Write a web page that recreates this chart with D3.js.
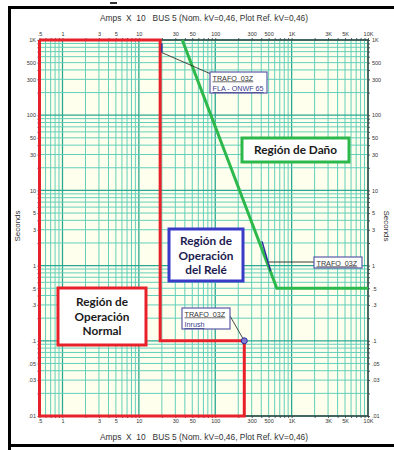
<!DOCTYPE html>
<html>
<head>
<meta charset="utf-8">
<script src="https://cdn.jsdelivr.net/npm/d3@7"></script>
<style>
  html, body { margin: 0; padding: 0; background: #ffffff; }
  svg { display: block; }
  svg text { white-space: pre; }
  .tick text { font-family: Arial, "Liberation Sans", sans-serif; font-size: 5.5px; fill: #333; }
  .tick line { stroke: #333; stroke-width: 0.8; }
  .domain { display: none; }
</style>
</head>
<body>
<svg id="chart" width="394" height="450"></svg>
<script>
// Tick values and labels (current in amps x10, time in seconds)
const xTickValues = [0.5, 1, 3, 5, 10, 30, 50, 100, 300, 500, 1000, 3000, 5000, 10000];
const xTickLabels = [".5", "1", "3", "5", "10", "30", "50", "100", "300", "500", "1K", "3K", "5K", "10K"];
const yTickValues = [1000, 500, 300, 100, 50, 30, 10, 5, 3, 1, 0.5, 0.3, 0.1, 0.05, 0.03, 0.01];
const yTickLabels = ["1K", "500", "300", "100", "50", "30", "10", "5", "3", "1", ".5", ".3", ".1", ".05", ".03", ".01"];

// Normal operation region (red) : [amps, seconds]
const normalRegion = [[0.5, 1000], [19, 1000], [19, 0.1], [240, 0.1], [240, 0.01], [0.5, 0.01], [0.5, 1000]];
// Transformer damage curve (green)
const damageCurve = [[37, 1000], [640, 0.5], [10000, 0.5]];
// TRAFO 03Z damage segment (blue)
const trafoSegment = [[410, 2.1], [530, 0.85]];
// TRAFO 03Z full-load amps marker
const flaMarker = [[20, 900], [20, 680]];
// TRAFO 03Z inrush point
const inrushPoint = [240, 0.1];

const axisTitle = "Amps  X  10   BUS 5 (Nom. kV=0,46, Plot Ref. kV=0,46)";

const svg = d3.select("#chart");
const pLeft = 39.5, pRight = 368, pTop = 40, pBottom = 416;

const x = d3.scaleLog().domain([0.5, 10000]).range([pLeft, pRight]);
const y = d3.scaleLog().domain([0.01, 1000]).range([pBottom, pTop]);

// outer frame
svg.append("rect").attr("x", 8).attr("y", 6).attr("width", 386).attr("height", 3).attr("fill", "#000");
svg.append("rect").attr("x", 8).attr("y", 6).attr("width", 3).attr("height", 444).attr("fill", "#000");
svg.append("rect").attr("x", 8).attr("y", 444).attr("width", 386).attr("height", 3).attr("fill", "#000");
svg.append("rect").attr("x", 110).attr("y", 2).attr("width", 7).attr("height", 2).attr("fill", "#333");

// plot background
svg.append("rect").attr("x", pLeft).attr("y", pTop)
  .attr("width", pRight - pLeft).attr("height", pBottom - pTop)
  .attr("fill", "#ffffee");

// log grid values (1..9 per decade)
function logGrid(lo, hi) {
  const out = [];
  for (let e = -3; e <= 5; e++) {
    for (let m = 1; m <= 9; m++) {
      const v = m * Math.pow(10, e);
      if (v >= lo * 0.999 && v <= hi * 1.001) out.push({ v: v, major: m === 1 });
    }
  }
  return out;
}
const xGrid = logGrid(0.5, 10000);
const yGrid = logGrid(0.01, 1000);

const grid = svg.append("g");
grid.selectAll("line.vx").data(xGrid).join("line")
  .attr("x1", d => x(d.v)).attr("x2", d => x(d.v))
  .attr("y1", pTop).attr("y2", pBottom)
  .attr("stroke", d => d.major ? "#2aa892" : "#62cfba")
  .attr("stroke-width", d => d.major ? 1.3 : 1);
grid.selectAll("line.hy").data(yGrid).join("line")
  .attr("y1", d => y(d.v)).attr("y2", d => y(d.v))
  .attr("x1", pLeft).attr("x2", pRight)
  .attr("stroke", d => d.major ? "#2aa892" : "#62cfba")
  .attr("stroke-width", d => d.major ? 1.3 : 1);

// axes
const xAllTicks = xGrid.map(d => d.v);
const yAllTicks = yGrid.map(d => d.v);
const xLab = v => { const i = xTickValues.findIndex(t => Math.abs(t - v) / t < 1e-6); return i >= 0 ? xTickLabels[i] : ""; };
const yLab = v => { const i = yTickValues.findIndex(t => Math.abs(t - v) / t < 1e-6); return i >= 0 ? yTickLabels[i] : ""; };

svg.append("g").attr("transform", `translate(0,${pTop})`)
  .call(d3.axisTop(x).tickValues(xAllTicks).tickFormat(xLab).tickSize(2).tickPadding(2));
svg.append("g").attr("transform", `translate(0,${pBottom})`)
  .call(d3.axisBottom(x).tickValues(xAllTicks).tickFormat(xLab).tickSize(2).tickPadding(1));
svg.append("g").attr("transform", `translate(${pLeft},0)`)
  .call(d3.axisLeft(y).tickValues(yAllTicks).tickFormat(yLab).tickSize(2).tickPadding(1.5));
svg.append("g").attr("transform", `translate(${pRight},0)`)
  .call(d3.axisRight(y).tickValues(yAllTicks).tickFormat(yLab).tickSize(2).tickPadding(2));

// plot frame
svg.append("rect").attr("x", pLeft).attr("y", pTop)
  .attr("width", pRight - pLeft).attr("height", pBottom - pTop)
  .attr("fill", "none").attr("stroke", "#3a4a48").attr("stroke-width", 1.5);

const line = d3.line().x(d => x(d[0])).y(d => y(d[1]));

// curves
svg.append("path").datum(normalRegion).attr("d", line)
  .attr("fill", "none").attr("stroke", "#e8202a").attr("stroke-width", 3);
svg.append("path").datum(damageCurve).attr("d", line)
  .attr("fill", "none").attr("stroke", "#2db84c").attr("stroke-width", 3);
svg.append("path").datum(trafoSegment).attr("d", line)
  .attr("fill", "none").attr("stroke", "#2c2c9c").attr("stroke-width", 1.5);
svg.append("path").datum(flaMarker).attr("d", line)
  .attr("fill", "none").attr("stroke", "#2c2c9c").attr("stroke-width", 1.5);

// axis titles
const titleFont = "Arial, 'Liberation Sans', sans-serif";
[21, 440].forEach(ty => {
  svg.append("text").attr("x", 204).attr("y", ty).attr("text-anchor", "middle")
    .attr("font-family", titleFont).attr("font-size", 8.4).attr("fill", "#333").text(axisTitle);
});
svg.append("text").attr("transform", "translate(20,226) rotate(-90)").attr("text-anchor", "middle")
  .attr("font-family", titleFont).attr("font-size", 8).attr("fill", "#333").text("Seconds");
svg.append("text").attr("transform", "translate(384,226) rotate(90)").attr("text-anchor", "middle")
  .attr("font-family", titleFont).attr("font-size", 8).attr("fill", "#333").text("Seconds");

// region boxes
const regionFont = "Lato, 'Open Sans', sans-serif";
function regionBox(bx, by, bw, bh, color, lines, baseY, textColor) {
  svg.append("rect").attr("x", bx).attr("y", by).attr("width", bw).attr("height", bh)
    .attr("fill", "#ffffff").attr("stroke", color).attr("stroke-width", 3);
  lines.forEach((t, i) => {
    svg.append("text").attr("x", bx + bw / 2).attr("y", baseY + i * 14.5)
      .attr("text-anchor", "middle").attr("font-family", regionFont)
      .attr("font-weight", "bold").attr("font-size", 11.8).attr("fill", textColor).text(t);
  });
}
regionBox(58, 288, 88, 57, "#e8202a", ["Región de", "Operación", "Normal"], 306, "#1a1a1a");
regionBox(169, 229, 74, 52, "#3a3ac8", ["Región de", "Operación", "del Relé"], 245, "#1c1c50");
regionBox(242, 138, 107, 24, "#2db84c", ["Región de Daño"], 154, "#1a1a1a");

// annotation labels
const noteFont = "Arial, 'Liberation Sans', sans-serif";
function note(bx, by, bw, bh, lines, baseY) {
  svg.append("rect").attr("x", bx).attr("y", by).attr("width", bw).attr("height", bh)
    .attr("fill", "#ffffff").attr("stroke", "#5a5aa8").attr("stroke-width", 1.2);
  lines.forEach((t, i) => {
    svg.append("text").attr("x", bx + 2.5).attr("y", baseY + i * 10.5)
      .attr("font-family", noteFont).attr("font-size", 7.2).attr("fill", i === 0 ? "#333" : "#3a3a8a")
      .attr("text-decoration", "underline").text(t);
  });
}

// leader lines
svg.append("line").attr("x1", x(flaMarker[1][0])).attr("y1", y(flaMarker[1][1]))
  .attr("x2", 211).attr("y2", 74).attr("stroke", "#333").attr("stroke-width", 0.9);
svg.append("line").attr("x1", 269).attr("y1", 262).attr("x2", 314).attr("y2", 262)
  .attr("stroke", "#222").attr("stroke-width", 0.9);
svg.append("line").attr("x1", 230).attr("y1", 316).attr("x2", x(inrushPoint[0]) - 1.5).attr("y2", y(inrushPoint[1]) - 2.5)
  .attr("stroke", "#333").attr("stroke-width", 0.9);

note(210, 72, 57, 21, ["TRAFO  03Z", "FLA - ONWF 65"], 80.5);
note(314, 257, 48, 11, ["TRAFO  03Z"], 265.5);
note(182, 308, 48, 21, ["TRAFO  03Z", "Inrush"], 316.5);

// inrush marker
svg.append("circle").attr("cx", x(inrushPoint[0])).attr("cy", y(inrushPoint[1])).attr("r", 3)
  .attr("fill", "#7f7fd6").attr("stroke", "#2c2c9c").attr("stroke-width", 1);
</script>
</body>
</html>
